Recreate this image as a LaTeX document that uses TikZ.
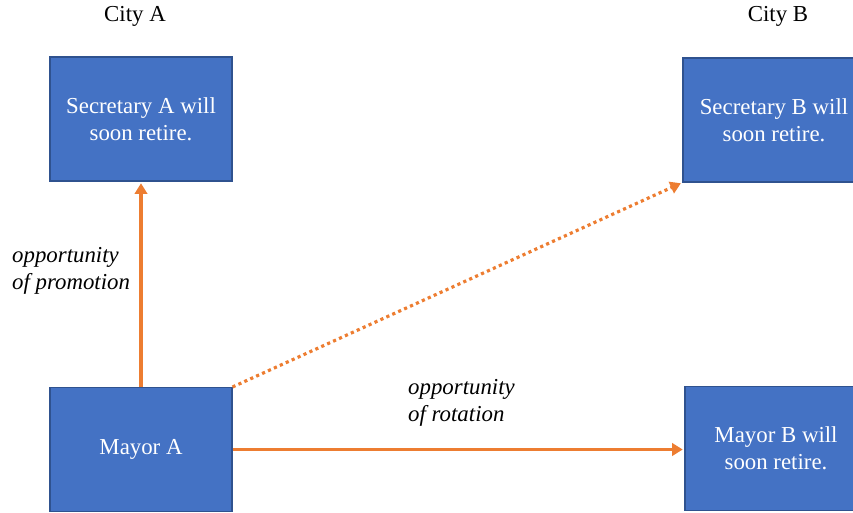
\documentclass[tikz,border=0pt]{standalone}
\usepackage{fontspec}
\setmainfont{Liberation Serif}
\usepackage{tikz}
\usetikzlibrary{arrows.meta,positioning}
\definecolor{boxblue}{HTML}{4472C4}
\definecolor{boxedge}{HTML}{2F528F}
\definecolor{arrorange}{HTML}{ED7D31}
\tikzset{
  post/.style={draw=boxedge,line width=0.6pt,fill=boxblue,text=white,
    minimum width=3.64cm,minimum height=2.48cm,align=center,
    font=\fontsize{13}{15.4}\selectfont},
  city/.style={font=\fontsize{13}{15.4}\selectfont},
  link/.style={draw=arrorange,line width=2.1pt,shorten >=1pt,
    -{Triangle[length=6pt,width=7pt]}},
  hint/.style={align=left,font=\fontsize{13}{15.4}\selectfont\itshape}
}

\begin{document}
\begin{tikzpicture}[x=0.02cm,y=-0.02cm]
\useasboundingbox (0,0) rectangle (853,512);
% the four posts
\node[post] (secA) at (141,119) {Secretary A will\\soon retire.};
\node[post] (secB) at (774,120) {Secretary B will\\soon retire.};
\node[post] (mayA) at (141,449.5) {Mayor A};
\node[post] (mayB) at (776,448.5) {Mayor B will\\soon retire.};
% city headings
\node[city] (cityA) at (135,16) {City A};
\node[city] (cityB) at (778,16) {City B};
% moves
\draw[link] (mayA) -- (secA);
\draw[link] (mayA.east) -- (mayA.east -| mayB.west);
\draw[link,line width=1.8pt,dash pattern=on 1.8pt off 1.9pt] (mayA.north east) -- (secB.south west);
% labels
\node[hint,anchor=west] (promo) at (6,271) {opportunity\\of promotion};
\node[hint,anchor=west] (rota) at (402,403) {opportunity\\of rotation};
\end{tikzpicture}
\end{document}
